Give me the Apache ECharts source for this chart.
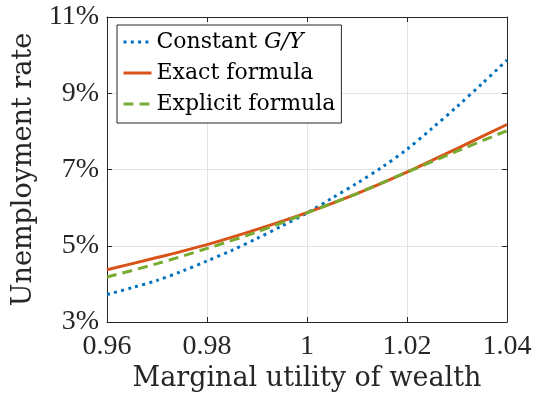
<!DOCTYPE html>
<html>
<head>
<meta charset="utf-8">
<script src="https://cdn.jsdelivr.net/npm/echarts@6/dist/echarts.min.js"></script>
<style>
  html, body { margin: 0; padding: 0; background: #fff; }
  #chart { width: 535px; height: 400px; }
</style>
</head>
<body>
<div id="chart"></div>
<script>
// x: marginal utility of wealth
const xBlue = [0.96, 0.965, 0.97, 0.975, 0.98, 0.985, 0.99, 0.995, 1.00, 1.005, 1.01, 1.015, 1.02, 1.025, 1.03, 1.035, 1.04]
const constantGY = [3.72, 3.90, 4.09, 4.33, 4.60, 4.88, 5.19, 5.52, 5.86, 6.25, 6.64, 7.06, 7.53, 8.08, 8.65, 9.25, 9.87]
const xFormula = [0.96, 0.97, 0.98, 0.99, 1.00, 1.01, 1.02, 1.03, 1.04]
const exactFormula = [4.37, 4.69, 5.03, 5.43, 5.87, 6.37, 6.93, 7.55, 8.18]
const explicitFormula = [4.18, 4.53, 4.93, 5.36, 5.86, 6.37, 6.93, 7.48, 8.02]
const xTicks = [0.96, 0.98, 1, 1.02, 1.04]
const yTicks = [3, 5, 7, 9, 11]

const TICK_FONT = '"Liberation Serif", serif'
const TEXT_FONT = '"DejaVu Serif", serif'
const INK = '#262626'

const pairs = (xs, ys) => xs.map((x, i) => [x, ys[i]])

const chart = echarts.init(document.getElementById('chart'))

// 次坐标轴只画上边和右边的刻度
const boxAxis = {
    axisLine: { show: true, lineStyle: { color: INK, width: 1 } },
    axisTick: { show: true, inside: true, length: 5, lineStyle: { color: INK } },
    axisLabel: { show: false },
    splitLine: { show: false }
}

chart.setOption({
    animation: false,
    grid: { left: 107, right: 28, top: 17, bottom: 78, containLabel: false },
    legend: {
        orient: 'vertical',
        left: 117,
        top: 25,
        backgroundColor: '#fff',
        borderColor: INK,
        borderWidth: 1,
        borderRadius: 0,
        padding: [4, 6, 6, 5],
        itemGap: 5,
        itemWidth: 28,
        itemHeight: 14,
        itemStyle: { opacity: 0 },   // 去掉图例里的圆点
        lineStyle: { width: 3 },
        data: ['Constant G/Y', 'Exact formula', 'Explicit formula'],
        formatter: name => name === 'Constant G/Y'
            ? '{n|Constant }{i|G/Y}'
            : '{n|' + name + '}',
        textStyle: {
            color: '#000',
            fontFamily: TEXT_FONT,
            fontSize: 22,
            lineHeight: 26,
            rich: {
                n: { fontFamily: TEXT_FONT, fontSize: 22, lineHeight: 26, color: '#000' },
                i: { fontFamily: TEXT_FONT, fontSize: 22, lineHeight: 26, fontStyle: 'italic', color: '#000' }
            }
        }
    },
    xAxis: [{
        type: 'value',
        min: xTicks[0],
        max: xTicks[xTicks.length - 1],
        interval: 0.02,
        name: 'Marginal utility of wealth',
        nameLocation: 'middle',
        nameGap: 38,
        nameTextStyle: { fontFamily: TEXT_FONT, fontSize: 27, color: INK },
        axisLine: { show: true, onZero: false, lineStyle: { color: INK, width: 1 } },
        axisTick: { show: true, inside: true, length: 5, lineStyle: { color: INK } },
        axisLabel: {
            fontFamily: TICK_FONT, fontSize: 28, color: INK, margin: 11,
            formatter: v => String(+v.toFixed(2))
        },
        splitLine: { show: true, lineStyle: { color: '#e3e3e3', width: 1 } }
    }, Object.assign({
        type: 'value', position: 'top', min: xTicks[0], max: xTicks[xTicks.length - 1], interval: 0.02
    }, boxAxis)],
    yAxis: [{
        type: 'value',
        min: yTicks[0],
        max: yTicks[yTicks.length - 1],
        interval: 2,
        name: 'Unemployment rate',
        nameLocation: 'middle',
        nameGap: 70,
        nameTextStyle: { fontFamily: TEXT_FONT, fontSize: 27, color: INK },
        axisLine: { show: true, onZero: false, lineStyle: { color: INK, width: 1 } },
        axisTick: { show: true, inside: true, length: 5, lineStyle: { color: INK } },
        axisLabel: {
            fontFamily: TICK_FONT, fontSize: 28, color: INK, margin: 8,
            formatter: '{value}%'
        },
        splitLine: { show: true, lineStyle: { color: '#e3e3e3', width: 1 } }
    }, Object.assign({
        type: 'value', position: 'right', min: yTicks[0], max: yTicks[yTicks.length - 1], interval: 2
    }, boxAxis)],
    series: [{
        name: 'Constant G/Y',
        type: 'line',
        data: pairs(xBlue, constantGY),
        smooth: 0.3,
        symbol: 'none',
        lineStyle: { color: '#0072BD', width: 3, type: [3, 4.3], cap: 'butt' },
        itemStyle: { color: '#0072BD' }
    }, {
        name: 'Exact formula',
        type: 'line',
        data: pairs(xFormula, exactFormula),
        smooth: 0.3,
        symbol: 'none',
        lineStyle: { color: '#D95319', width: 3, type: 'solid' },
        itemStyle: { color: '#D95319' }
    }, {
        name: 'Explicit formula',
        type: 'line',
        data: pairs(xFormula, explicitFormula),
        smooth: 0.3,
        symbol: 'none',
        lineStyle: { color: '#77AC30', width: 3, type: [10, 6], cap: 'butt' },
        itemStyle: { color: '#77AC30' }
    }]
})
</script>
</body>
</html>
